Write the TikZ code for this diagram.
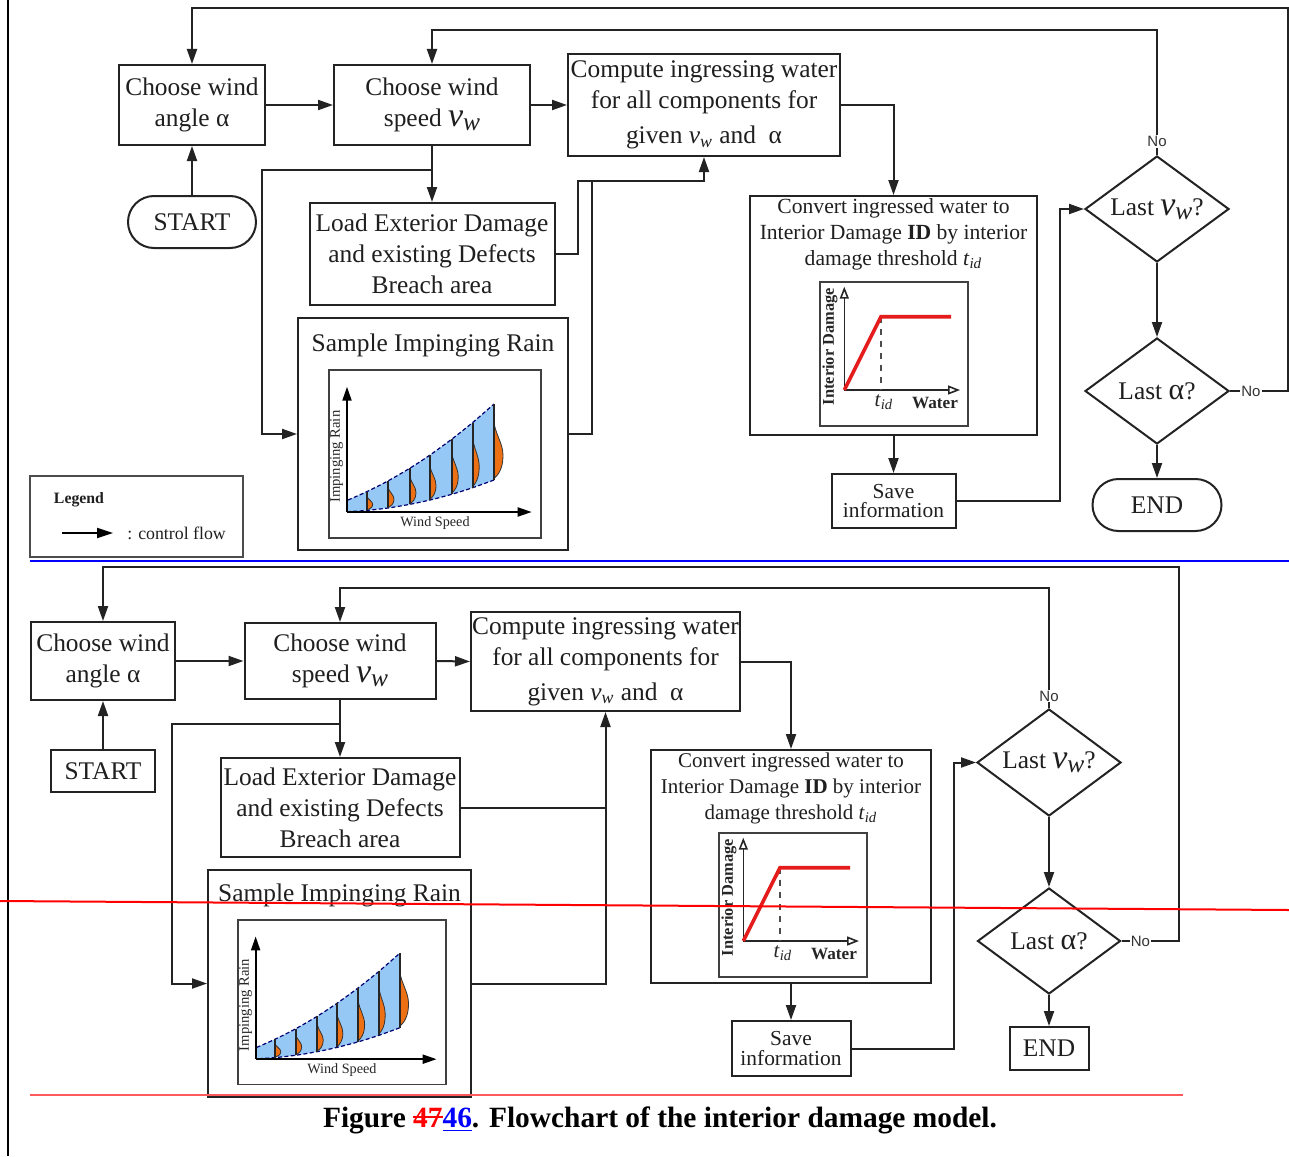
\documentclass[tikz,border=0pt]{standalone}
\usepackage{fontspec}
\setmainfont{Liberation Serif}
\newfontfamily\sansno{Liberation Sans}
\usetikzlibrary{arrows.meta,shapes.geometric,calc}
\definecolor{rainblue}{RGB}{150,200,245}
\definecolor{rainorange}{RGB}{238,112,20}
\definecolor{dmgred}{RGB}{228,28,28}
\definecolor{lnc}{RGB}{35,35,35}
\definecolor{lightred}{RGB}{255,90,90}
\newcommand\fbig{\fontsize{12.7}{15.5}\selectfont}
\newcommand\myvw{{\fontsize{17}{15}\selectfont\itshape v}\raisebox{-0.35ex}{\itshape w}}
\newcommand\myalpha{{\fontsize{15}{15}\selectfont α}}
\newcommand\mystrike[1]{\setbox0=\hbox{#1}\rlap{\rule[0.3em]{\wd0}{0.08em}}\box0}
\newcommand\bump[4]{%
  \filldraw[fill=rainorange, draw=black!80, line width=0.4pt]
    (#1,{#2-0.02*#3}) .. controls ({#1+0.4*#4},{#2-0.06*#3}) and ({#1+#4},{#2-0.14*#3}) ..
    ({#1+#4},{#2-0.32*#3}) .. controls ({#1+#4},{#2-0.48*#3}) and ({#1+0.25*#4},{#2-0.58*#3}) ..
    (#1,{#2-0.75*#3}) -- cycle;
  \draw[black!85, line width=1pt] (#1,#2) -- (#1,{#2-#3});}
\newcommand\rainplot[1]{%
  \draw[black!75, line width=0.75pt] (0,0) rectangle (212,168);
  \fill[rainblue] plot[smooth] coordinates {(19,130) (37.7,121.7) (59,110.9) (81,98.1) (101,85) (122.7,69.2) (143.7,52.5) (165,34)}
     -- plot[smooth] coordinates {(165,110) (143.7,117.7) (122.7,124.3) (101,130) (81,134.3) (59,138) (37.7,140.4) (19,141.7)} -- cycle;
  \draw[blue!45!black, dash pattern=on 2pt off 1.2pt, line width=0.6pt] plot[smooth] coordinates {(19,130) (37.7,121.7) (59,110.9) (81,98.1) (101,85) (122.7,69.2) (143.7,52.5) (165,34)};
  \draw[blue!45!black, dash pattern=on 2pt off 1.2pt, line width=0.6pt] plot[smooth] coordinates {(165,110) (143.7,117.7) (122.7,124.3) (101,130) (81,134.3) (59,138) (37.7,140.4) (19,141.7)};
  \bump{37.7}{140.4}{18.7}{6}
  \bump{59}{138}{27.1}{6}
  \bump{81}{134.3}{36.2}{6}
  \bump{101}{130}{45}{6}
  \bump{122.7}{124.3}{55.1}{6.5}
  \bump{143.7}{117.7}{65.2}{6.5}
  \bump{165}{110}{76}{9}
  \draw[black, line width=1pt, -{Triangle[length=7pt,width=4.5pt]}] (18,142) -- (18,16.7);
  \draw[black, line width=1pt, -{Triangle[length=7pt,width=4.5pt]}] (18,142) -- (202.7,142);
  \node[font=\fontsize{7.3}{8}\selectfont, rotate=90, text=black!85] (ir#1) at (7.7,86.7) {Impinging Rain};
  \node[font=\fontsize{7.1}{8}\selectfont, text=black!85] (ws#1) at (106,153.3) {Wind Speed};
}
\newcommand\dmgplot[1]{%
  \draw[black!75, line width=0.75pt] (0,0) rectangle (148,144);
  \draw[black!85, line width=0.8pt, -{Triangle[open,length=6pt,width=4.5pt]}] (24.3,108) -- (24.3,4.7);
  \draw[black!85, line width=0.8pt, -{Triangle[open,length=6pt,width=4.5pt]}] (24.3,108) -- (140,108);
  \draw[black!70, dashed, line width=0.7pt] (61,34.7) -- (61,108);
  \draw[dmgred, line width=1.8pt] (24.3,108) -- (61,34.7) -- (131,34.7);
  \node[font=\fontsize{10.5}{11}\selectfont, text=black!85] (tid#1) at (64,120) {\textit{t}\textsubscript{\textit{id}}};
  \node[font=\bfseries\fontsize{8.6}{9}\selectfont, text=black!85] (wat#1) at (115,121.3) {Water};
  \node[font=\bfseries\fontsize{8.2}{9}\selectfont, rotate=90, text=black!85] (idl#1) at (10,64.7) {Interior Damage};
}
\begin{document}
\begin{tikzpicture}[x=0.5pt,y=-0.5pt,
  box/.style={draw=lnc, line width=1pt, inner sep=0pt, align=center, font=\fbig, text=black!88},
  txt/.style={inner sep=0pt, align=center, font=\fbig, text=black!88},
  txtsm/.style={inner sep=0pt, align=center, font=\fontsize{10.8}{13}\selectfont, text=black!88},
  savebox/.style={box, font=\fontsize{10.7}{9.6}\selectfont},
  dia/.style={draw=lnc, line width=1pt, diamond, inner sep=0pt, font=\fbig, text=black!88},
  arr/.style={draw=lnc, line width=1pt, -{Triangle[length=7.5pt,width=5pt]}},
  ln/.style={draw=lnc, line width=1pt},
  no/.style={font=\sansno\fontsize{7.5}{8}\selectfont, fill=white, inner sep=0.6pt, text=black!80}]
\useasboundingbox (0,0) rectangle (1289,1156);
\fill[white] (0,0) rectangle (1289,1156);

% ================= TOP CHART =================
\node[box, minimum width=73pt, minimum height=40pt] (angle) at (192,105) {Choose wind\\angle α};
\node[box, minimum width=98pt, minimum height=40pt] (speed) at (432,105) {Choose wind\\speed \myvw};
\node[box, minimum width=136pt, minimum height=51pt] (compute) at (704,105) {Compute ingressing water\\for all components for\\[2pt]given \textit{v}\textsubscript{\textit{w}} and~ α};
\node[box, rounded corners=13pt, minimum width=64pt, minimum height=26pt] (start) at (192,222) {START};
\node[box, minimum width=122.5pt, minimum height=51pt] (load) at (432,254) {Load Exterior Damage\\and existing Defects\\Breach area};
\node[box, minimum width=135pt, minimum height=116pt] (sample) at (433,434) {};
\node[txt] (samplet) at (433,345) {Sample Impinging Rain};
\node[box, minimum width=143.5pt, minimum height=119.5pt] (convert) at (893.5,315.5) {};
\node[txtsm] (convertt) at (893.5,234) {Convert ingressed water to\\Interior Damage \textbf{ID} by interior\\damage threshold \textit{t}\textsubscript{\textit{id}}};
\node[savebox, minimum width=62pt, minimum height=27pt] (save) at (893.5,501) {Save\\information};
\node[dia, minimum width=72pt, minimum height=53pt] (dv) at (1157,209) {\makebox[0pt]{Last \myvw?}};
\node[dia, minimum width=72pt, minimum height=53pt] (da) at (1157,391) {\makebox[0pt]{Last \myalpha?}};
\node[box, rounded corners=13pt, minimum width=64.5pt, minimum height=26pt] (end) at (1157,505) {END};
\node[draw=black!70, line width=0.6pt, minimum width=106.5pt, minimum height=40.5pt] (legend) at (136.5,516.5) {};
\node[font=\bfseries\fontsize{7.9}{9}\selectfont, text=black!88] (legt) at (79,500) {Legend};
\node[font=\fontsize{8.9}{10}\selectfont, anchor=west, inner sep=0pt, text=black!88] (legc) at (127,533) {: control flow};
\coordinate (lg1) at (62,533);
\coordinate (lg2) at (113,533);
\draw[draw=black, line width=0.9pt, -{Triangle[length=8pt,width=5pt]}] (lg1) -- (lg2);

\begin{scope}[shift={(329,370)}]\rainplot{a}\end{scope}
\begin{scope}[shift={(820,282)}]\dmgplot{a}\end{scope}

\coordinate (rt) at (1288,8);
\draw[arr] (da.east) -- node[no,pos=0.36] (no1) {No} (da.east -| rt) -- (rt) -| (angle.north);
\coordinate (it) at (1157,30);
\draw[arr] (dv.north) -- node[no,pos=0.11] (no2) {No} (it) -| (speed.north);
\draw[arr] (angle.east) -- (speed.west);
\draw[arr] (speed.east) -- (compute.west);
\draw[arr] (start.north) -- (angle.south);
\coordinate (br) at (262,170);
\draw[arr] (speed.south) -- (load.north);
\draw[arr] (speed.south |- br) -- (br) |- (sample.west);
\coordinate (j1) at (578,181);
\draw[arr] (load.east) -| (j1) -| (compute.south);
\coordinate (j2) at (592,181);
\draw[ln] (sample.east) -| (j2);
\draw[arr] (compute.east) -| (convert.north);
\draw[arr] (convert.south) -- (save.north);
\coordinate (j3) at (1060,209);
\draw[arr] (save.east) -| (j3) -- (dv.west);
\draw[arr] (dv.south) -- (da.north);
\draw[arr] (da.south) -- (end.north);

% ================= BOTTOM CHART =================
\node[box, minimum width=72pt, minimum height=39pt] (angle2) at (103,661) {Choose wind\\angle α};
\node[box, minimum width=95.5pt, minimum height=38pt] (speed2) at (340,661) {Choose wind\\speed \myvw};
\node[box, minimum width=134.5pt, minimum height=49.5pt] (compute2) at (605.5,661.5) {Compute ingressing water\\for all components for\\[2pt]given \textit{v}\textsubscript{\textit{w}} and~ α};
\node[box, minimum width=52pt, minimum height=21pt] (start2) at (103,771) {START};
\node[box, minimum width=119.5pt, minimum height=49.5pt] (load2) at (340,807.5) {Load Exterior Damage\\and existing Defects\\Breach area};
\node[box, minimum width=131.5pt, minimum height=113.5pt] (sample2) at (339.5,983.5) {};
\node[txt] (samplet2) at (339.5,895) {Sample Impinging Rain};
\node[box, minimum width=140pt, minimum height=116.5pt] (convert2) at (791,866.5) {};
\node[txtsm, font=\fontsize{10.5}{13}\selectfont] (convertt2) at (791,788) {Convert ingressed water to\\Interior Damage \textbf{ID} by interior\\damage threshold \textit{t}\textsubscript{\textit{id}}};
\node[savebox, minimum width=59.5pt, minimum height=27.5pt] (save2) at (791,1048.5) {Save\\information};
\node[dia, minimum width=72pt, minimum height=53.5pt] (dv2) at (1049,762.5) {\makebox[0pt]{Last \myvw?}};
\node[dia, minimum width=71.5pt, minimum height=53pt] (da2) at (1049,941) {\makebox[0pt]{Last \myalpha?}};
\node[box, minimum width=39.5pt, minimum height=21.5pt] (end2) at (1049,1048.5) {END};

\begin{scope}[shift={(238,920)}, scale=0.98]\rainplot{b}\end{scope}
\begin{scope}[shift={(719,833)}]\dmgplot{b}\end{scope}

\coordinate (rt2) at (1179,567);
\draw[arr] (da2.east) -- node[no,pos=0.33] (no3) {No} (da2.east -| rt2) -- (rt2) -| (angle2.north);
\coordinate (it2) at (1049,588);
\draw[arr] (dv2.north) -- node[no,pos=0.1] (no4) {No} (it2) -| (speed2.north);
\draw[arr] (angle2.east) -- (speed2.west);
\draw[arr] (speed2.east) -- (compute2.west);
\draw[arr] (start2.north) -- (angle2.south);
\coordinate (br2) at (172,724);
\draw[arr] (speed2.south) -- (load2.north);
\draw[arr] (speed2.south |- br2) -- (br2) |- (sample2.west);
\draw[arr] (load2.east) -| (compute2.south);
\draw[ln] (sample2.east) -| (compute2.south |- load2.east);
\draw[arr] (compute2.east) -| (convert2.north);
\draw[arr] (convert2.south) -- (save2.north);
\coordinate (j5) at (954,762.5);
\draw[arr] (save2.east) -| (j5) -- (dv2.west);
\draw[arr] (dv2.south) -- (da2.north);
\draw[arr] (da2.south) -- (end2.north);

% ================= page marks =================
\draw[black, line width=1.2pt] (8,0) -- (8,1156);
\draw[blue, line width=1pt] (30,561) -- (1289,561);
\draw[red, line width=1pt] (0,901) -- (1289,910);
\draw[lightred, line width=1pt] (30,1095) -- (1183,1095);

\node[font=\bfseries\fontsize{14.7}{16}\selectfont, inner sep=0pt] (cap) at (660,1120) {Figure \textcolor{red}{\mystrike{47}}\textcolor{blue}{\underline{46}}. Flowchart of the interior damage model.};
\end{tikzpicture}
\end{document}
